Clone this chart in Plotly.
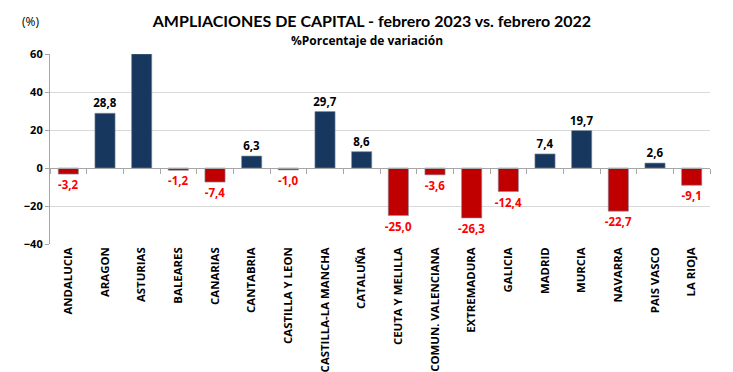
import plotly.graph_objects as go

categories = ["ANDALUCIA", "ARAGON", "ASTURIAS", "BALEARES", "CANARIAS", "CANTABRIA",
              "CASTILLA Y LEON", "CASTILLA-LA MANCHA", "CATALUÑA", "CEUTA Y MELILLA",
              "COMUN. VALENCIANA", "EXTREMADURA", "GALICIA", "MADRID", "MURCIA",
              "NAVARRA", "PAIS VASCO", "LA RIOJA"]
values = [-3.2, 28.8, 60.0, -1.2, -7.4, 6.3, -1.0, 29.7, 8.6, -25.0, -3.6, -26.3,
          -12.4, 7.4, 19.7, -22.7, 2.6, -9.1]
show_label = [True, True, False, True, True, True, True, True, True, True, True, True,
              True, True, True, True, True, True]
y_ticks = [-40, -20, 0, 20, 40, 60]

NAVY = "#17375E"
RED = "#C00000"
FONT = "Open Sans"
TFONT = "Lato"

labels = [(f"{v:.1f}".replace(".", ",") if s else "") for v, s in zip(values, show_label)]
bar_colors = [NAVY if v >= 0 else RED for v in values]
text_colors = ["#000000" if v >= 0 else "#FF0000" for v in values]

fig = go.Figure()
fig.add_trace(go.Bar(
    x=categories, y=values,
    marker=dict(color=bar_colors, line=dict(color="#7F8FA6", width=0.6)),
    text=labels, textposition="outside", textangle=0, constraintext="none",
    textfont=dict(family=FONT, size=11.5, color=text_colors, weight="bold"),
    cliponaxis=True, width=0.55, hoverinfo="skip",
))
n = len(categories)
fig.add_trace(go.Scatter(x=[-0.5, n - 0.5], y=[0, 0], xaxis="x2", mode="lines",
                         line=dict(width=0), hoverinfo="skip", showlegend=False))

fig.update_layout(
    width=725, height=364,
    margin=dict(l=42, r=23, t=46, b=128),
    paper_bgcolor="white", plot_bgcolor="white",
    showlegend=False,
    font=dict(family=FONT, color="#000000"),
    title=dict(text="<b>AMPLIACIONES DE CAPITAL - febrero 2023 vs. febrero 2022</b>",
               x=0.502, xanchor="center", y=0.964, yanchor="middle",
               font=dict(size=16, family=TFONT)),
    xaxis=dict(type="category", showgrid=False, showline=False, ticks="",
               tickangle=-90, automargin=False,
               tickfont=dict(size=11.4, family=FONT, weight="bold"),
               range=[-0.5, n - 0.5]),
    xaxis2=dict(overlaying="x", anchor="free", position=0.4, range=[-0.5, n - 0.5],
                tickvals=[i - 0.5 for i in range(n + 1)], showticklabels=False,
                ticks="outside", ticklen=5, tickcolor="#A6A6A6", tickwidth=1,
                showline=True, linecolor="#A6A6A6", linewidth=1.2, showgrid=False,
                zeroline=False, side="bottom", automargin=False),
    yaxis=dict(range=[-40, 60], tickvals=y_ticks, showgrid=True, gridcolor="#D9D9D9",
               gridwidth=1.3, zeroline=False, showline=True, linecolor="#A6A6A6",
               linewidth=1.2, ticks="outside", ticklen=4, tickcolor="#A6A6A6",
               automargin=False,
               tickfont=dict(size=11, family=FONT, weight="bold")),
    annotations=[
        dict(text="<b>%Porcentaje de variación</b>", xref="paper", yref="paper",
             x=0.48, y=1, yshift=14, xanchor="center", yanchor="middle",
             showarrow=False, font=dict(size=12, family=FONT)),
        dict(text="(%)", xref="paper", yref="paper", x=0, xshift=-20, y=1, yshift=33,
             xanchor="center", yanchor="middle", showarrow=False,
             font=dict(size=12, family=FONT)),
    ],
)

fig.write_html("out.html")
